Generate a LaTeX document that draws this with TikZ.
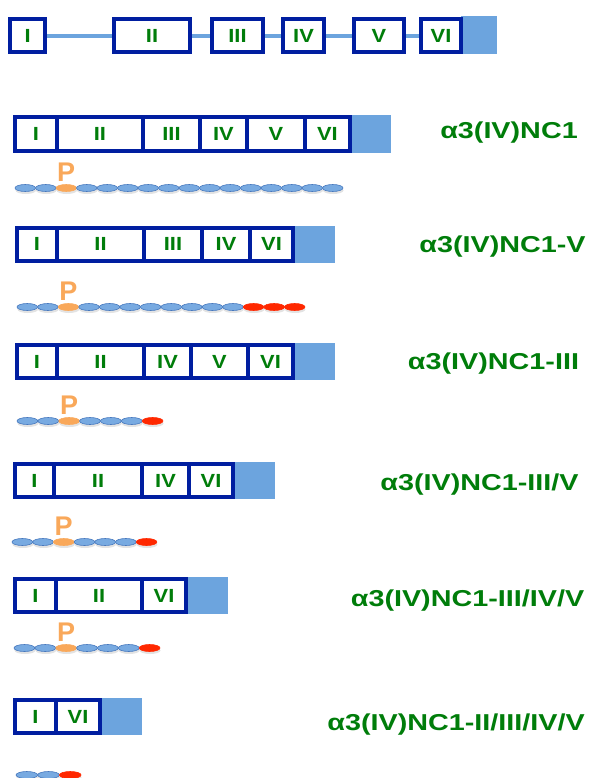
\documentclass[tikz,border=0pt]{standalone}
\usepackage{fontspec}
\usepackage{graphicx}
\newfontfamily\labfont{Liberation Sans}
\usetikzlibrary{shapes.geometric,shadows,backgrounds}
\definecolor{segblue}{RGB}{0,30,160}
\definecolor{tailblue}{RGB}{108,164,222}
\definecolor{labgreen}{RGB}{0,125,10}
\definecolor{beadfill}{RGB}{120,170,225}
\definecolor{beadedge}{RGB}{70,120,190}
\definecolor{orfill}{RGB}{249,168,90}
\definecolor{redfill}{RGB}{255,40,0}
\newcommand{\segtxt}[1]{\scalebox{1.15}[1]{#1}}
\newcommand{\bigtxt}[1]{\scalebox{1.25}[1]{#1}}
\tikzset{
  seg/.style={draw=segblue, line width=4pt, fill=white, inner sep=0pt,
    text=labgreen, font=\labfont\bfseries\fontsize{19}{21}\selectfont},
  tail/.style={fill=tailblue, draw=none, inner sep=0pt},
  link/.style={draw=tailblue, line width=4pt},
  bead/.style={ellipse, inner sep=0pt, minimum height=7pt, line width=0.6pt,
    drop shadow={opacity=0.22, shadow xshift=0.5pt, shadow yshift=-2.5pt}},
  bluebead/.style={draw=beadedge, fill=beadfill},
  orbead/.style={draw=orfill, fill=orfill},
  redbead/.style={draw=redfill, fill=redfill},
  ptxt/.style={text=orfill, inner sep=0pt, anchor=base,
    font=\labfont\bfseries\fontsize{27}{30}\selectfont},
  biglab/.style={text=labgreen, inner sep=0pt, anchor=base,
    font=\labfont\bfseries\fontsize{23}{26}\selectfont}
}
% #1 row id, #2 y, #3 x0, #4 pitch, #5 n, #6 orange index, #7 first red index
\newcommand{\beadrow}[7]{%
  \foreach \i in {1,...,#5}{%
    \ifnum\i=#6 \def\bc{orbead}\else\ifnum\i<#7 \def\bc{bluebead}\else\def\bc{redbead}\fi\fi
    \node[bead, \bc, minimum width=#4pt] (b#1-\i) at ({#3+(\i-0.5)*#4}, #2) {};
  }}
\begin{document}
\begin{tikzpicture}[x=1pt,y=-1pt]
\useasboundingbox (0,0) rectangle (595,778);

% ---- top: gene structure ----
\node[tail, minimum width=36pt, minimum height=38pt] (t7) at (479,35) {};
\node[seg, minimum width=34.7pt, minimum height=32.7pt] (t1) at (27.7,35.7) {\segtxt{I}};
\node[seg, minimum width=76pt, minimum height=32.7pt] (t2) at (152,35.7) {\segtxt{II}};
\node[seg, minimum width=51pt, minimum height=32.7pt] (t3) at (237.5,35.7) {\segtxt{III}};
\node[seg, minimum width=41pt, minimum height=32.7pt] (t4) at (303.5,35.7) {\segtxt{IV}};
\node[seg, minimum width=50pt, minimum height=32.7pt] (t5) at (379,35.7) {\segtxt{V}};
\node[seg, minimum width=40pt, minimum height=32.7pt] (t6) at (441,35.7) {\segtxt{VI}};
\begin{scope}[on background layer]
\draw[link] (t1) -- (t2);
\draw[link] (t2) -- (t3);
\draw[link] (t3) -- (t4);
\draw[link] (t4) -- (t5);
\draw[link] (t5) -- (t6);
\end{scope}

% ---- row 1: NC1 ----
\node[tail, minimum width=41pt, minimum height=38.3pt] (a7) at (370.2,134.2) {};
\node[seg, minimum width=41.4pt, minimum height=34.3pt] (a1) at (36,134.2) {\segtxt{I}};
\node[seg, minimum width=86.3pt, minimum height=34.3pt] (a2) at (99.85,134.2) {\segtxt{II}};
\node[seg, minimum width=57pt, minimum height=34.3pt] (a3) at (171.5,134.2) {\segtxt{III}};
\node[seg, minimum width=46.7pt, minimum height=34.3pt] (a4) at (223.35,134.2) {\segtxt{IV}};
\node[seg, minimum width=58.3pt, minimum height=34.3pt] (a5) at (275.85,134.2) {\segtxt{V}};
\node[seg, minimum width=44.7pt, minimum height=34.3pt] (a6) at (327.35,134.2) {\segtxt{VI}};
\beadrow{1}{188}{15}{20.5}{16}{3}{99}
\node[ptxt] (p1) at ([yshift=6.8pt]b1-3.center) {P};
\node[biglab] (l1) at (509,138.3) {\bigtxt{α3(IV)NC1}};

% ---- row 2: NC1-V ----
\node[tail, minimum width=42pt, minimum height=36.7pt] (c7) at (314,244.35) {};
\node[seg, minimum width=40pt, minimum height=32.7pt] (c1) at (37,244.3) {\segtxt{I}};
\node[seg, minimum width=87pt, minimum height=32.7pt] (c2) at (100.5,244.3) {\segtxt{II}};
\node[seg, minimum width=58pt, minimum height=32.7pt] (c3) at (173,244.3) {\segtxt{III}};
\node[seg, minimum width=48pt, minimum height=32.7pt] (c4) at (226,244.3) {\segtxt{IV}};
\node[seg, minimum width=43pt, minimum height=32.7pt] (c6) at (271.5,244.3) {\segtxt{VI}};
\beadrow{2}{307}{17}{20.57}{14}{3}{12}
\node[ptxt] (p2) at ([yshift=6.8pt]b2-3.center) {P};
\node[biglab] (l2) at (502.5,252.5) {\bigtxt{α3(IV)NC1-V}};

% ---- row 3: NC1-III ----
\node[tail, minimum width=42pt, minimum height=37pt] (d7) at (314,361.5) {};
\node[seg, minimum width=40pt, minimum height=33pt] (d1) at (37,361.5) {\segtxt{I}};
\node[seg, minimum width=87pt, minimum height=33pt] (d2) at (100.5,361.5) {\segtxt{II}};
\node[seg, minimum width=47pt, minimum height=33pt] (d4) at (167.5,361.5) {\segtxt{IV}};
\node[seg, minimum width=57pt, minimum height=33pt] (d5) at (219.5,361.5) {\segtxt{V}};
\node[seg, minimum width=45pt, minimum height=33pt] (d6) at (270.5,361.5) {\segtxt{VI}};
\beadrow{3}{421}{17}{20.86}{7}{3}{7}
\node[ptxt] (p3) at ([yshift=6.8pt]b3-3.center) {P};
\node[biglab] (l3) at (493.5,369.2) {\bigtxt{α3(IV)NC1-III}};

% ---- row 4: NC1-III/V ----
\node[tail, minimum width=42pt, minimum height=37pt] (e7) at (254,480.5) {};
\node[seg, minimum width=39pt, minimum height=33pt] (e1) at (34.5,480.5) {\segtxt{I}};
\node[seg, minimum width=88pt, minimum height=33pt] (e2) at (98,480.5) {\segtxt{II}};
\node[seg, minimum width=47pt, minimum height=33pt] (e4) at (165.5,480.5) {\segtxt{IV}};
\node[seg, minimum width=44pt, minimum height=33pt] (e6) at (211,480.5) {\segtxt{VI}};
\beadrow{4}{542}{12}{20.7}{7}{3}{7}
\node[ptxt] (p4) at ([yshift=6.8pt]b4-3.center) {P};
\node[biglab] (l4) at (479.5,490) {\bigtxt{α3(IV)NC1-III/V}};

% ---- row 5: NC1-III/IV/V ----
\node[tail, minimum width=42pt, minimum height=37pt] (f7) at (207,595.5) {};
\node[seg, minimum width=41pt, minimum height=33pt] (f1) at (35.5,595.5) {\segtxt{I}};
\node[seg, minimum width=86pt, minimum height=33pt] (f2) at (99,595.5) {\segtxt{II}};
\node[seg, minimum width=44pt, minimum height=33pt] (f6) at (164,595.5) {\segtxt{VI}};
\beadrow{5}{648}{14}{20.86}{7}{3}{7}
\node[ptxt] (p5) at ([yshift=6.8pt]b5-3.center) {P};
\node[biglab] (l5) at (467.5,606) {\bigtxt{α3(IV)NC1-III/IV/V}};

% ---- row 6: NC1-II/III/IV/V ----
\node[tail, minimum width=42pt, minimum height=37pt] (g7) at (121,716.5) {};
\node[seg, minimum width=41pt, minimum height=33pt] (g1) at (35.5,716.5) {\segtxt{I}};
\node[seg, minimum width=44pt, minimum height=33pt] (g6) at (78,716.5) {\segtxt{VI}};
\beadrow{6}{775}{16}{21.7}{3}{0}{3}
\node[biglab] (l6) at (456,730) {\bigtxt{α3(IV)NC1-II/III/IV/V}};
\end{tikzpicture}
\end{document}
